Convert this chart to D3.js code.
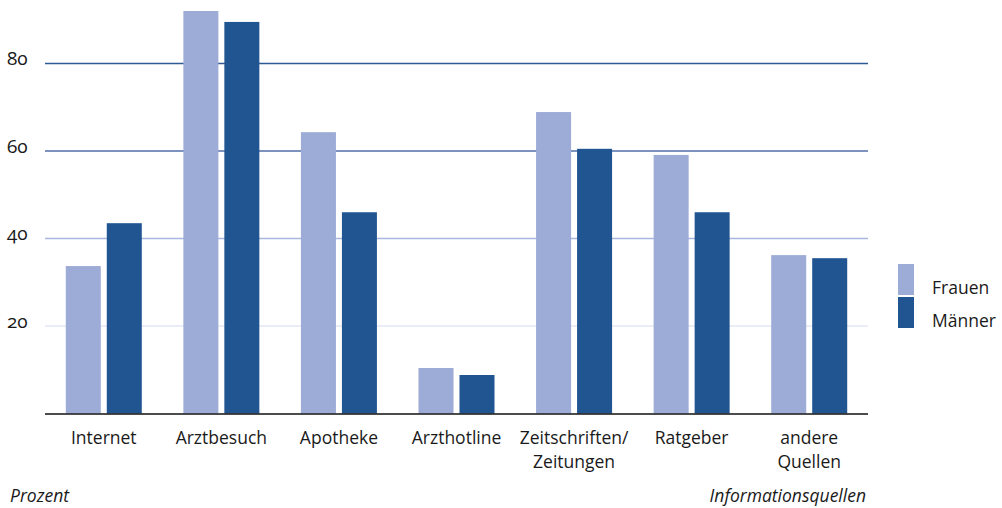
<!DOCTYPE html>
<html><head><meta charset="utf-8">
<script src="https://cdn.jsdelivr.net/npm/d3@7"></script>
<style>
body{margin:0;background:#fff;}
text{font-family:"Open Sans","Lato",sans-serif;fill:#1a1a1a;}
</style></head>
<body><svg id="c" width="1002" height="508"></svg>
<script>
const categories = [["Internet"],["Arztbesuch"],["Apotheke"],["Arzthotline"],["Zeitschriften/","Zeitungen"],["Ratgeber"],["andere","Quellen"]];
const series = ["Frauen","Männer"];
const frauen = [33.7, 92.0, 64.3, 10.4, 68.9, 59.1, 36.2];
const maenner = [43.5, 89.5, 46.0, 8.8, 60.5, 46.0, 35.5];
const ticks = [20, 40, 60, 80];
const colors = ["#9dabd7", "#215592"];
const gridColors = {20:"#e3e6f4", 40:"#a9b7e0", 60:"#4f6fa9", 80:"#2f5a95"};

const svg = d3.select("#c");
const left = 45, right = 868, base = 413.5;
const y = d3.scaleLinear().domain([0, 80]).range([base, 63.5]);
const x0 = d3.scaleBand().domain(d3.range(categories.length)).range([left, right]).paddingInner(0.3536).paddingOuter(0.1768);
const x1 = d3.scaleBand().domain(series).range([0, x0.bandwidth()]).paddingInner(0.146);

// gridlines
svg.append("g").selectAll("line").data(ticks).join("line")
  .attr("x1", left).attr("x2", right)
  .attr("y1", d => y(d)).attr("y2", d => y(d))
  .attr("stroke", d => gridColors[d]).attr("stroke-width", 1.6);

// y tick labels
svg.append("g").selectAll("text").data(ticks).join("text")
  .attr("x", 7).attr("y", d => y(d) + 1.5)
  .style("font-size", "19px").style("font-variant-numeric", "oldstyle-nums")
  .text(d => d);

// bars
const data = categories.map((c, i) => ({i, vals: [frauen[i], maenner[i]]}));
const g = svg.append("g").selectAll("g").data(data).join("g")
  .attr("transform", d => `translate(${x0(d.i)},0)`);
g.selectAll("rect").data(d => d.vals.map((v, k) => ({k, v}))).join("rect")
  .attr("x", d => x1(series[d.k])).attr("width", x1.bandwidth())
  .attr("y", d => y(d.v)).attr("height", d => base - y(d.v))
  .attr("fill", d => colors[d.k]);

// axis line
svg.append("line").attr("x1", left).attr("x2", right).attr("y1", base + 0.5).attr("y2", base + 0.5)
  .attr("stroke", "#111").attr("stroke-width", 1.6);

// category labels
const cl = svg.append("g").selectAll("text").data(categories).join("text")
  .attr("x", (d, i) => x0(i) + x0.bandwidth() / 2).attr("y", 444)
  .attr("text-anchor", "middle").style("font-size", "17.5px");
cl.selectAll("tspan").data(d => d).join("tspan")
  .attr("x", function(){ return this.parentNode.getAttribute("x"); })
  .attr("dy", (d, j) => j === 0 ? 0 : 24).text(d => d);

// axis titles
svg.append("text").attr("x", 10).attr("y", 502).style("font-size", "17.5px").style("font-style", "italic").text("Prozent");
svg.append("text").attr("x", 866).attr("y", 502).attr("text-anchor", "end").style("font-size", "17.5px").style("font-style", "italic").text("Informationsquellen");

// legend
const lg = svg.append("g").selectAll("g").data(series).join("g")
  .attr("transform", (d, i) => `translate(898,${264 + i * 33})`);
lg.append("rect").attr("width", 16).attr("height", 31).attr("fill", (d, i) => colors[i]);
lg.append("text").attr("x", 34).attr("y", 30).style("font-size", "17.5px").text(d => d);
</script></body></html>
